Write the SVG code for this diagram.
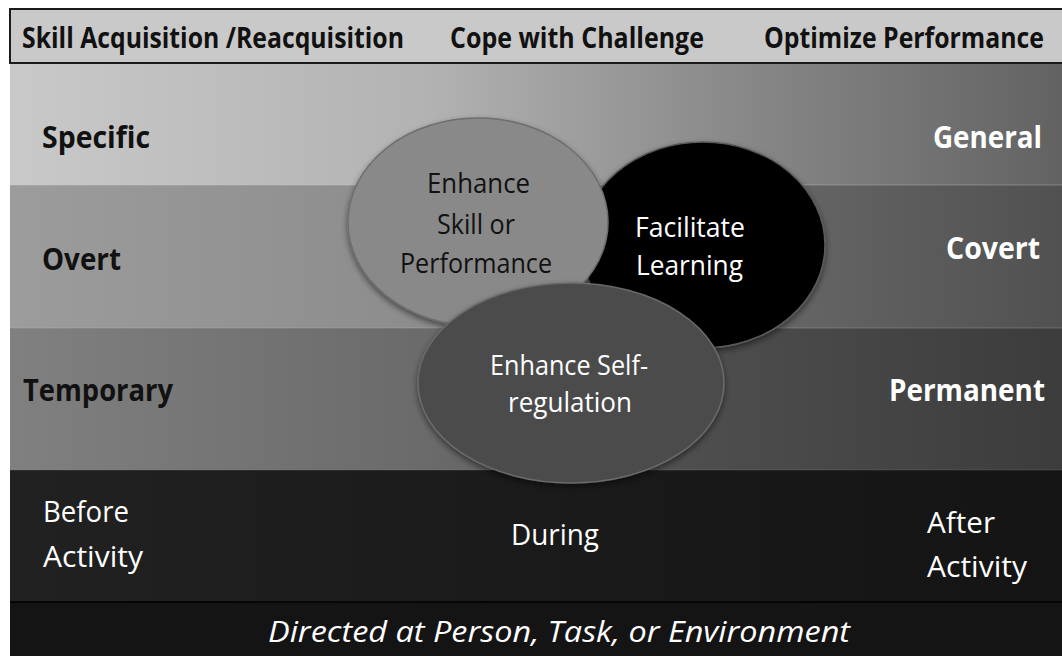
<svg xmlns="http://www.w3.org/2000/svg" width="1062" height="656" viewBox="0 0 1062 656">
<defs>
<linearGradient id="g1" x1="0" y1="0" x2="1" y2="0"><stop offset="0" stop-color="#c9c9c9"/><stop offset="0.4" stop-color="#b2b2b2"/><stop offset="0.65" stop-color="#8e8e8e"/><stop offset="1" stop-color="#626262"/></linearGradient>
<linearGradient id="g2" x1="0" y1="0" x2="1" y2="0"><stop offset="0" stop-color="#9c9c9c"/><stop offset="0.4" stop-color="#8c8c8c"/><stop offset="0.65" stop-color="#6c6c6c"/><stop offset="1" stop-color="#515151"/></linearGradient>
<linearGradient id="g3" x1="0" y1="0" x2="1" y2="0"><stop offset="0" stop-color="#808080"/><stop offset="0.4" stop-color="#6a6a6a"/><stop offset="0.65" stop-color="#4e4e4e"/><stop offset="1" stop-color="#3c3c3c"/></linearGradient>
<linearGradient id="g4" x1="0" y1="0" x2="1" y2="0"><stop offset="0" stop-color="#212121"/><stop offset="1" stop-color="#141414"/></linearGradient>
<filter id="sh" x="-20%" y="-20%" width="140%" height="140%"><feGaussianBlur in="SourceAlpha" stdDeviation="3"/><feOffset dx="0" dy="3"/><feComponentTransfer><feFuncA type="linear" slope="0.5"/></feComponentTransfer><feMerge><feMergeNode/><feMergeNode in="SourceGraphic"/></feMerge></filter>
</defs>
<style>
text{font-family:"Open Sans","Liberation Sans",sans-serif;}
.hd{font-size:29px;font-weight:bold;fill:#111;}
.lb{font-size:30px;font-weight:bold;}
.rg{font-size:29px;fill:#fff;}
.el{font-size:27px;}
.dk{fill:#111;}
.wt{fill:#fff;}
</style>
<rect x="0" y="0" width="1062" height="656" fill="#fff"/>
<g id="bands">
<rect x="10" y="63" width="1052" height="122" fill="url(#g1)"/>
<rect x="10" y="185" width="1052" height="143" fill="url(#g2)"/>
<rect x="10" y="328" width="1052" height="142" fill="url(#g3)"/>
<rect x="10" y="470" width="1052" height="132" fill="url(#g4)"/>
<rect x="10" y="602" width="1052" height="54" fill="#141414"/>
<line x1="10" y1="185" x2="1062" y2="185" stroke="#d0d0d0" stroke-opacity="0.35" stroke-width="1"/>
<line x1="10" y1="328" x2="1062" y2="328" stroke="#c0c0c0" stroke-opacity="0.3" stroke-width="1"/>
<line x1="10" y1="470" x2="1062" y2="470" stroke="#888" stroke-opacity="0.3" stroke-width="1"/>
<line x1="10" y1="602" x2="1062" y2="602" stroke="#000" stroke-width="1.5"/>
</g>
<g id="header">
<rect x="10" y="9" width="1054" height="54" fill="#c9c9c9" stroke="#1a1a1a" stroke-width="2"/>
<text class="hd" x="22" y="48" textLength="382" lengthAdjust="spacingAndGlyphs">Skill Acquisition /Reacquisition</text>
<text class="hd" x="450" y="48" textLength="254" lengthAdjust="spacingAndGlyphs">Cope with Challenge</text>
<text class="hd" x="764" y="48" textLength="280" lengthAdjust="spacingAndGlyphs">Optimize Performance</text>
</g>
<g id="labels">
<text class="lb dk" x="42" y="148" textLength="108" lengthAdjust="spacingAndGlyphs">Specific</text>
<text class="lb dk" x="42" y="270" textLength="79" lengthAdjust="spacingAndGlyphs">Overt</text>
<text class="lb dk" x="23" y="401" textLength="150" lengthAdjust="spacingAndGlyphs">Temporary</text>
<text class="lb wt" x="933" y="148" textLength="109" lengthAdjust="spacingAndGlyphs">General</text>
<text class="lb wt" x="946" y="259" textLength="94" lengthAdjust="spacingAndGlyphs">Covert</text>
<text class="lb wt" x="889" y="401" textLength="156" lengthAdjust="spacingAndGlyphs">Permanent</text>
<text class="rg" x="43" y="522" textLength="86" lengthAdjust="spacingAndGlyphs">Before</text>
<text class="rg" x="43" y="567" textLength="100" lengthAdjust="spacingAndGlyphs">Activity</text>
<text class="rg" x="511" y="545" textLength="88" lengthAdjust="spacingAndGlyphs">During</text>
<text class="rg" x="927" y="533" textLength="68" lengthAdjust="spacingAndGlyphs">After</text>
<text class="rg" x="927" y="577" textLength="100" lengthAdjust="spacingAndGlyphs">Activity</text>
<text class="rg" x="268" y="642" font-style="italic" textLength="582" lengthAdjust="spacingAndGlyphs">Directed at Person, Task, or Environment</text>
</g>
<g id="node-facilitate">
<ellipse cx="703" cy="245" rx="122" ry="103" fill="#000" stroke="#5a5a5a" stroke-width="1.5" filter="url(#sh)"/>
<text class="el wt" x="635" y="237" textLength="110" lengthAdjust="spacingAndGlyphs">Facilitate</text>
<text class="el wt" x="636" y="275" textLength="107" lengthAdjust="spacingAndGlyphs">Learning</text>
</g>
<g id="node-enhance-skill">
<ellipse cx="478" cy="222" rx="130" ry="104" fill="#898989" stroke="#6e6e6e" stroke-width="1.5" filter="url(#sh)"/>
<text class="el dk" x="427" y="193" textLength="103" lengthAdjust="spacingAndGlyphs">Enhance</text>
<text class="el dk" x="437" y="234" textLength="78" lengthAdjust="spacingAndGlyphs">Skill or</text>
<text class="el dk" x="400" y="273" textLength="152" lengthAdjust="spacingAndGlyphs">Performance</text>
</g>
<g id="node-self-regulation">
<ellipse cx="571" cy="383" rx="153" ry="100" fill="#4b4b4b" stroke="#6a6a6a" stroke-width="1.5" filter="url(#sh)"/>
<text class="el wt" x="490" y="375" textLength="158" lengthAdjust="spacingAndGlyphs">Enhance Self-</text>
<text class="el wt" x="508" y="412" textLength="124" lengthAdjust="spacingAndGlyphs">regulation</text>
</g>
<g id="connectors"/>
</svg>
